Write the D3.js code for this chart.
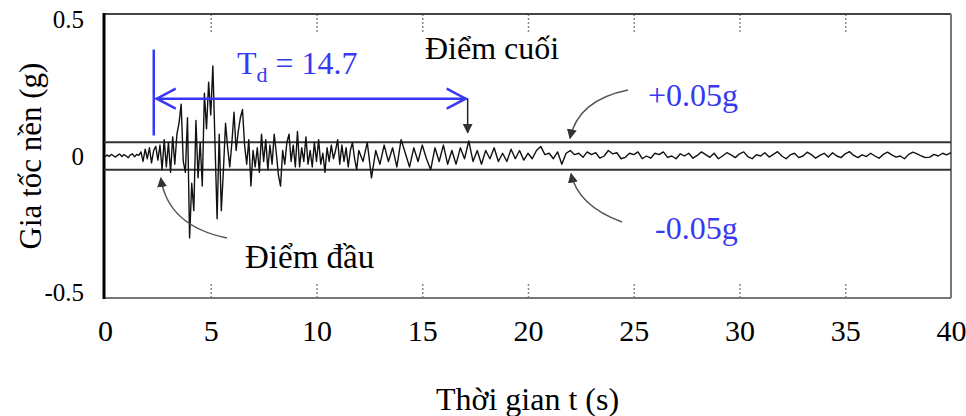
<!DOCTYPE html>
<html>
<head>
<meta charset="utf-8">
<script src="https://cdn.jsdelivr.net/npm/d3@7"></script>
<style>
  body { margin: 0; background: #fff; }
  text { font-family: "Liberation Serif", "Times New Roman", serif; }
</style>
</head>
<body>
<div id="chart"></div>
<script>
// Ground acceleration record (g)
// strong part: 0.0 .. 12.0 s, every 0.1 s
const strongStart = 0, strongStep = 0.1;
const accStrong = [
  -0.003, 0.004, -0.002, 0.006, 0.001, -0.004, 0.003, 0.007, -0.002, 0.005,
  0.000, -0.006, 0.004, 0.008, -0.003, 0.006, 0.002, 0.015, -0.02, 0.025,
  -0.01, 0.03, -0.025, 0.02, 0.035, -0.015, 0.04, -0.05, 0.06, -0.04,
  0.05, -0.06, 0.07, -0.03, 0.08, 0.12, 0.19, -0.02, -0.06, 0.14,
  -0.30, -0.10, -0.20, 0.13, -0.08, 0.05, -0.11, 0.23, 0.10, 0.27,
  0.15, 0.33, 0.05, -0.23, 0.08, -0.20, -0.05, 0.12, 0.03, -0.04,
  0.05, 0.16, 0.02, 0.09, 0.14, 0.17, 0.04, -0.03, 0.06, -0.11,
  0.02, -0.04, 0.03, -0.06, 0.08, -0.02, 0.06, -0.05, 0.04, -0.03,
  0.08, 0.01, -0.07, -0.11, 0.02, -0.03, 0.05, 0.08, -0.02, 0.04,
  -0.04, 0.09, -0.04, 0.03, -0.02, 0.07, -0.03, 0.02, -0.04, 0.05,
  -0.02, 0.06, -0.03, 0.01, -0.06, 0.03, -0.02, 0.04, -0.01, 0.02,
  0.06, -0.03, 0.04, -0.02, 0.03, -0.04, 0.02, 0.05, -0.01, -0.05,
  0.02
];
// tail: 12.2 .. 40.0 s, every 0.2 s
const tailStart = 12.2, tailStep = 0.2;
const accTail = [
  -0.02, 0.05, -0.08, 0.02, -0.03,
  0.04, -0.02, 0.03, -0.04, 0.06,
  0.01, -0.04, 0.03, -0.02, 0.04,
  -0.01, -0.05, 0.03, -0.02, 0.04,
  -0.03, 0.02, -0.03, 0.03, -0.01,
  0.055, -0.02, 0.02, -0.03, 0.02,
  -0.01, 0.03, -0.02, 0.01, -0.02,
  0.025, -0.01, 0.02, -0.015, 0.01,
  -0.01, 0.02, 0.035, 0.005, 0.01,
  -0.01, 0.015, -0.03, 0.01, 0.02,
  0.005, 0.01, -0.005, 0.015, 0.005,
  0.012, -0.008, 0.0, 0.02, 0.008,
  0.012, -0.01, -0.005, 0.01, 0.005,
  0.015, -0.01, 0.0, -0.008, 0.01,
  0.005, 0.015, -0.005, 0.0, -0.01,
  0.008, 0.0, 0.01, -0.008, 0.002,
  0.015, 0.005, -0.005, 0.01, -0.01,
  0.0, 0.012, 0.004, -0.006, 0.008,
  0.015, -0.003, -0.01, 0.005, 0.0,
  0.012, -0.004, 0.006, 0.016, 0.0,
  -0.01, 0.004, 0.01, -0.006, 0.0,
  0.014, 0.005, -0.008, 0.002, 0.01,
  -0.004, 0.012, 0.0, -0.006, 0.008,
  0.016, 0.002, -0.006, 0.004, -0.002,
  0.01, 0.0, -0.008, 0.006, 0.014,
  0.004, -0.004, 0.0, -0.01, 0.006,
  0.014, 0.008, 0.0, -0.006, -0.004,
  0.006, 0.0, 0.01, 0.004, 0.012
];

const xTicks = [0, 5, 10, 15, 20, 25, 30, 35, 40];
const yTicks = [-0.5, 0, 0.5];
const thresholds = [0.05, -0.05];
const tdStart = 2.4;      // start of strong motion (s)
const tdDuration = 14.7;  // T_d (s)

const record = accStrong.map((a, i) => ({t: strongStart + i * strongStep, a: a}))
  .concat(accTail.map((a, i) => ({t: tailStart + i * tailStep, a: a})));

const width = 966, height = 416;
const blue = "#3838f2";

const svg = d3.select("#chart").append("svg")
  .attr("width", width)
  .attr("height", height);

const x = d3.scaleLinear().domain([0, 40]).range([105, 951]);
const y = d3.scaleLinear().domain([-0.52, 0.52]).range([298, 14]);

// arrow heads
const defs = svg.append("defs");
defs.append("marker")
  .attr("id", "head")
  .attr("viewBox", "0 0 10 10")
  .attr("refX", 9).attr("refY", 5)
  .attr("markerWidth", 10).attr("markerHeight", 12)
  .attr("markerUnits", "userSpaceOnUse")
  .attr("orient", "auto")
  .append("path")
  .attr("d", "M0,0 L10,5 L0,10 Z")
  .attr("fill", "#333");

// dotted ticks, top and bottom
const inner = xTicks.slice(1, -1);
svg.append("g")
  .attr("transform", `translate(0,${y.range()[0]})`)
  .call(d3.axisBottom(x).tickValues(inner).tickSize(-16).tickFormat(""))
  .call(g => g.select(".domain").remove())
  .selectAll("line").attr("stroke", "#888").attr("stroke-dasharray", "2,2").attr("stroke-width", 1.5);
svg.append("g")
  .attr("transform", `translate(0,${y.range()[1]})`)
  .call(d3.axisTop(x).tickValues(inner).tickSize(-18).tickFormat(""))
  .call(g => g.select(".domain").remove())
  .selectAll("line").attr("stroke", "#888").attr("stroke-dasharray", "2,2").attr("stroke-width", 1.5);

// frame
const x0 = x.range()[0] - 1, x1 = x.range()[1];
const yT = y.range()[1], yB = y.range()[0];
svg.append("line").attr("x1", x0).attr("x2", x1).attr("y1", yT).attr("y2", yT)
  .attr("stroke", "#444").attr("stroke-width", 2);
svg.append("line").attr("x1", x0).attr("x2", x1).attr("y1", yB).attr("y2", yB)
  .attr("stroke", "#777").attr("stroke-width", 2);
svg.append("line").attr("x1", x1).attr("x2", x1).attr("y1", yT).attr("y2", yB)
  .attr("stroke", "#777").attr("stroke-width", 2);
svg.append("line").attr("x1", x0).attr("x2", x0).attr("y1", yT - 1).attr("y2", yB + 1)
  .attr("stroke", "#000").attr("stroke-width", 3);

// +/-0.05g threshold lines
svg.selectAll(".thr")
  .data(thresholds)
  .enter()
  .append("line")
  .attr("class", "thr")
  .attr("x1", x0).attr("x2", x1)
  .attr("y1", d => y(d)).attr("y2", d => y(d))
  .attr("stroke", "#333").attr("stroke-width", 2);

// the record
svg.append("path")
  .datum(record)
  .attr("fill", "none")
  .attr("stroke", "#111")
  .attr("stroke-width", 1.4)
  .attr("stroke-linejoin", "round")
  .attr("d", d3.line().x(d => x(d.t)).y(d => y(d.a)));

// axes
svg.append("g")
  .attr("transform", `translate(${x0},0)`)
  .call(d3.axisLeft(y).tickValues(yTicks).tickSize(0).tickPadding(20).tickFormat(d => String(d)))
  .call(g => g.select(".domain").remove())
  .selectAll("text")
  .attr("font-family", "Liberation Serif, serif")
  .attr("font-size", 25)
  .attr("fill", "#000");

svg.append("g")
  .attr("transform", `translate(0,${yB})`)
  .call(d3.axisBottom(x).tickValues(xTicks).tickSize(0).tickPadding(22))
  .call(g => g.select(".domain").remove())
  .selectAll("text")
  .attr("font-family", "Liberation Serif, serif")
  .attr("font-size", 30)
  .attr("fill", "#000");

svg.append("text")
  .attr("x", (x0 + x1) / 2)
  .attr("y", 410)
  .attr("text-anchor", "middle")
  .attr("font-size", 32)
  .text("Thời gian t (s)");

svg.append("text")
  .attr("transform", `translate(41,${(yT + yB) / 2}) rotate(-90)`)
  .attr("text-anchor", "middle")
  .attr("font-size", 31)
  .text("Gia tốc nền (g)");

// T_d annotation
const arrowY = y(0.21);
const xs = x(tdStart), xe = x(tdStart + tdDuration);
svg.append("line")
  .attr("x1", xs - 2).attr("x2", xs - 2)
  .attr("y1", y(0.39)).attr("y2", y(0.075))
  .attr("stroke", blue).attr("stroke-width", 2.5);
svg.append("line")
  .attr("x1", xs).attr("x2", xe).attr("y1", arrowY).attr("y2", arrowY)
  .attr("stroke", blue).attr("stroke-width", 2.5);
svg.append("path")
  .attr("d", `M${xs + 20},${arrowY - 10} L${xs + 1},${arrowY} L${xs + 20},${arrowY + 10}`)
  .attr("fill", "none").attr("stroke", blue).attr("stroke-width", 2.5);
svg.append("path")
  .attr("d", `M${xe - 20},${arrowY - 10} L${xe - 1},${arrowY} L${xe - 20},${arrowY + 10}`)
  .attr("fill", "none").attr("stroke", blue).attr("stroke-width", 2.5);

const td = svg.append("text")
  .attr("x", 237).attr("y", 74)
  .attr("font-size", 32)
  .attr("fill", blue);
td.append("tspan").text("T");
td.append("tspan").attr("dy", 8).attr("font-size", 22).text("d");
td.append("tspan").attr("dy", -8).text(" = 14.7");

// end point
svg.append("line")
  .attr("x1", xe + 1).attr("x2", xe + 1)
  .attr("y1", arrowY).attr("y2", y(0.085))
  .attr("stroke", "#222").attr("stroke-width", 1.5)
  .attr("marker-end", "url(#head)");
svg.append("text")
  .attr("x", 425).attr("y", 59)
  .attr("font-size", 32)
  .text("Điểm cuối");

// start point
svg.append("path")
  .attr("d", `M227,238 Q168,226 ${xs + 5},178`)
  .attr("fill", "none").attr("stroke", "#555").attr("stroke-width", 1.5)
  .attr("marker-end", "url(#head)");
svg.append("text")
  .attr("x", 245).attr("y", 268)
  .attr("font-size", 33)
  .text("Điểm đầu");

// +0.05g / -0.05g
svg.append("path")
  .attr("d", `M628,90 Q578,100 570,${y(0.05) - 4}`)
  .attr("fill", "none").attr("stroke", "#555").attr("stroke-width", 1.5)
  .attr("marker-end", "url(#head)");
svg.append("text")
  .attr("x", 648).attr("y", 106)
  .attr("font-size", 32)
  .attr("fill", blue)
  .text("+0.05g");

svg.append("path")
  .attr("d", `M622,222 Q578,206 571,${y(-0.05) + 4}`)
  .attr("fill", "none").attr("stroke", "#555").attr("stroke-width", 1.5)
  .attr("marker-end", "url(#head)");
svg.append("text")
  .attr("x", 655).attr("y", 239)
  .attr("font-size", 32)
  .attr("fill", blue)
  .text("-0.05g");
</script>
</body>
</html>
